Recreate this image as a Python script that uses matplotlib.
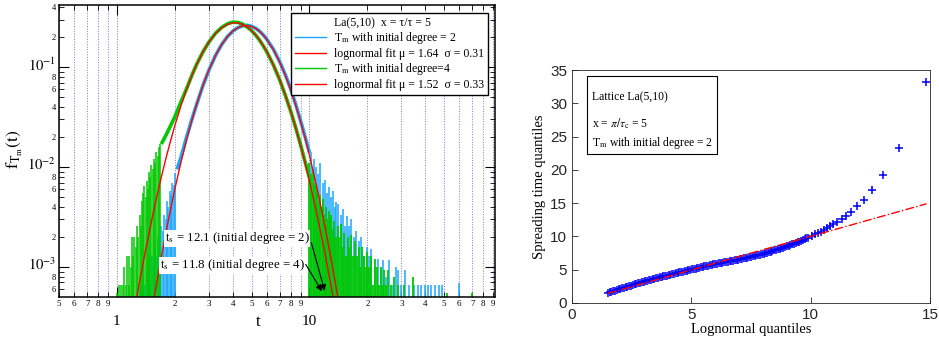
import matplotlib
matplotlib.use("Agg")
import matplotlib.pyplot as plt
from matplotlib.lines import Line2D
from matplotlib.patches import Rectangle
from matplotlib.ticker import FixedLocator, FixedFormatter
from matplotlib.transforms import ScaledTranslation

plt.rcParams['font.family'] = ['Liberation Serif', 'DejaVu Serif']
plt.rcParams['mathtext.fontset'] = 'stix'

BLUE = "#1aa6ff"
GREEN = "#00c800"
RED = "#ff0000"

# === histogram, initial degree 2 (blue) ===
blue_t = [2.05, 2.15, 2.3, 2.45, 2.6, 2.8, 3.0, 3.25, 3.5, 3.75, 4.0, 4.25, 4.5, 4.75,
          5.0, 5.25, 5.5, 5.75, 6.0, 6.5, 7.0, 7.5, 8.0, 8.5, 9.0, 9.5, 10.0]
blue_f = [0.0095, 0.0125, 0.0200, 0.030, 0.043, 0.066, 0.093, 0.131, 0.169, 0.203, 0.230,
          0.249, 0.260, 0.263, 0.257, 0.246, 0.230, 0.211, 0.191, 0.151, 0.114, 0.084,
          0.060, 0.042, 0.029, 0.020, 0.014]
blue_left_t = [1.31, 1.34, 1.37, 1.40, 1.43, 1.46, 1.49, 1.52, 1.55, 1.58, 1.61, 1.64, 1.67,
               1.70, 1.73, 1.76, 1.79, 1.82, 1.85, 1.88, 1.91, 1.94, 1.97, 2.00]
blue_left_f = [0.00066, 0.00066, 0.0010, 0.00066, 0.0010, 0.0013, 0.00066, 0.0013, 0.0010,
               0.0016, 0.0013, 0.0020, 0.0016, 0.0026, 0.0023, 0.0033, 0.0030, 0.0046,
               0.0040, 0.0058, 0.0052, 0.0070, 0.0066, 0.0088]
blue_right_t = [10.2, 10.5, 10.8, 11.1, 11.4, 11.7, 12.0, 12.3, 12.6, 12.9, 13.2, 13.5, 13.8,
                14.1, 14.5, 14.9, 15.3, 15.7, 16.1, 16.5, 17.0, 17.5, 18.0, 18.6, 19.2, 19.8,
                20.4, 21.0, 21.8, 22.6, 23.4, 24.2, 25.0, 26.0, 27.0, 28.0, 29.0, 30.0, 31.5,
                33.0, 35.0, 36.5, 38.0, 40.0, 41.5, 43.0, 45.0, 47.0, 49.0, 60.0]
blue_right_f = [0.0140, 0.0120, 0.0100, 0.0085, 0.0110, 0.0070, 0.0075, 0.0055, 0.0063,
                0.0050, 0.0058, 0.0040, 0.0045, 0.0043, 0.0033, 0.0038, 0.0026, 0.0032,
                0.0026, 0.0030, 0.0020, 0.0023, 0.0018, 0.0020, 0.0013, 0.0016, 0.0013,
                0.0015, 0.0010, 0.0012, 0.00093, 0.00117, 0.0008, 0.00117, 0.00066, 0.0010,
                0.00093, 0.00066, 0.00093, 0.00066, 0.00066, 0.00066, 0.00066, 0.00066,
                0.00066, 0.00066, 0.00066, 0.00066, 0.00066, 0.00069]

# === histogram, initial degree 4 (green) ===
green_t = [1.70, 1.80, 1.90, 2.0, 2.15, 2.3, 2.45, 2.6, 2.8, 3.0, 3.25, 3.5, 3.75, 4.0,
           4.25, 4.5, 4.75, 5.0, 5.25, 5.5, 5.75, 6.0, 6.5, 7.0, 7.5, 8.0, 8.5, 9.0, 9.5, 10.0]
green_f = [0.017, 0.021, 0.026, 0.032, 0.045, 0.061, 0.083, 0.108, 0.143, 0.178,
           0.219, 0.250, 0.272, 0.283, 0.281, 0.270, 0.253, 0.233, 0.210, 0.187, 0.164,
           0.143, 0.105, 0.075, 0.052, 0.036, 0.0245, 0.0166, 0.0112, 0.0078]
green_left_t = [1.00, 1.02, 1.05, 1.07, 1.09, 1.11, 1.13, 1.15, 1.16, 1.18, 1.20, 1.21, 1.23,
                1.25, 1.27, 1.29, 1.31, 1.33, 1.35, 1.37, 1.39, 1.41, 1.43, 1.45, 1.47, 1.49,
                1.51, 1.53, 1.55, 1.57, 1.60, 1.63, 1.66, 1.68]
green_left_f = [0.00055, 0.00066, 0.00066, 0.00066, 0.0010, 0.00066, 0.0013, 0.00066, 0.0013,
                0.0010, 0.0020, 0.0013, 0.0020, 0.0016, 0.0026, 0.0020, 0.0033, 0.0026,
                0.0046, 0.0055, 0.0064, 0.0050, 0.0072, 0.0060, 0.0090, 0.0080, 0.0105,
                0.0095, 0.0120, 0.0110, 0.0140, 0.0130, 0.0160, 0.0170]
green_right_t = [10.0, 10.2, 10.4, 10.6, 10.8, 11.0, 11.2, 11.4, 11.6, 11.8, 12.0, 12.2, 12.4,
                 12.6, 12.8, 13.0, 13.2, 13.4, 13.7, 14.0, 14.3, 14.6, 14.9, 15.2, 15.5, 15.8,
                 16.1, 16.4, 16.8, 17.2, 17.6, 18.0, 18.4, 18.8, 19.2, 19.6, 20.0, 20.5, 21.0,
                 21.5, 22.0, 22.5, 23.0, 23.5, 24.0, 24.5, 25.0, 25.5, 26.5, 27.5, 29.0, 31.0,
                 34.5, 52.0, 70.0]
green_right_f = [0.0110, 0.0085, 0.0095, 0.0070, 0.0066, 0.0060, 0.0046, 0.0053, 0.0040,
                 0.0048, 0.0033, 0.0040, 0.0030, 0.0036, 0.0026, 0.0033, 0.0024, 0.0029,
                 0.0020, 0.0026, 0.0020, 0.0027, 0.0016, 0.0022, 0.0013, 0.0020, 0.0016,
                 0.0021, 0.0013, 0.0018, 0.0013, 0.0016, 0.0010, 0.0016, 0.0013, 0.0010,
                 0.0014, 0.0010, 0.0013, 0.00066, 0.0012, 0.0010, 0.00066, 0.0010, 0.00066,
                 0.00093, 0.00066, 0.00093, 0.00066, 0.0008, 0.00066, 0.00066, 0.0008,
                 0.00055, 0.00055]

# === lognormal fits ===
mu_fit = [1.64, 1.52]
sigma_fit = [0.31, 0.33]
fit1_t = [1.55, 1.62, 1.7, 1.85, 2.0, 2.15, 2.3, 2.45, 2.6, 2.8, 3.0, 3.25, 3.5, 3.75, 4.0,
          4.25, 4.5, 4.75, 5.0, 5.25, 5.5, 5.75, 6.0, 6.5, 7.0, 7.5, 8.0, 8.5, 9.0, 9.5,
          10, 11, 12, 13, 14]
fit1_f = [4.53e-4, 7.45e-4, 1.252e-3, 2.946e-3, 6.07e-3, 0.0112, 0.01889, 0.0295, 0.04324,
          0.0661, 0.09335, 0.1309, 0.1686, 0.2027, 0.2302, 0.2494, 0.2598, 0.2617, 0.2561,
          0.2447, 0.2290, 0.2104, 0.1903, 0.1497, 0.1130, 0.0826, 0.05891, 0.0412, 0.02843,
          0.01939, 0.01312, 5.89e-3, 2.615e-3, 1.155e-3, 5.10e-4]
fit2_t = [1.25, 1.32, 1.4, 1.55, 1.7, 1.8, 1.9, 2.0, 2.15, 2.3, 2.45, 2.6, 2.8, 3.0, 3.25,
          3.5, 3.75, 4.0, 4.25, 4.5, 4.75, 5.0, 5.25, 5.5, 5.75, 6.0, 6.5, 7.0, 7.5, 8.0,
          8.5, 9.0, 9.5, 10, 11, 12, 13, 13.5]
fit2_f = [4.27e-4, 7.66e-4, 1.39e-3, 3.62e-3, 7.94e-3, 0.01242, 0.0184, 0.02618, 0.0412,
          0.06018, 0.0826, 0.1076, 0.1431, 0.1783, 0.2179, 0.2489, 0.2692, 0.2784, 0.2776,
          0.2683, 0.2528, 0.2331, 0.2109, 0.1879, 0.1652, 0.1435, 0.1054, 0.07509, 0.05236,
          0.03592, 0.02433, 0.01636, 0.01092, 7.26e-3, 3.19e-3, 1.402e-3, 6.18e-4, 4.12e-4]

# spreading time thresholds
ts_values = [12.1, 11.8]
ts_degree = [2, 4]

# === QQ plot (initial degree 2) ===
qq_x = [1.5, 1.575, 1.65, 1.725, 1.8, 1.875, 1.95, 2.025, 2.1, 2.175, 2.25, 2.325, 2.4,
        2.475, 2.55, 2.625, 2.7, 2.775, 2.85, 2.925, 3.0, 3.075, 3.15, 3.225, 3.3, 3.375,
        3.45, 3.525, 3.6, 3.675, 3.75, 3.825, 3.9, 3.975, 4.05, 4.125, 4.2, 4.275, 4.35,
        4.425, 4.5, 4.575, 4.65, 4.725, 4.8, 4.875, 4.95, 5.025, 5.1, 5.175, 5.25, 5.325,
        5.4, 5.475, 5.55, 5.625, 5.7, 5.775, 5.85, 5.925, 6.0, 6.075, 6.15, 6.225, 6.3,
        6.375, 6.45, 6.525, 6.6, 6.675, 6.75, 6.825, 6.9, 6.975, 7.05, 7.125, 7.2, 7.275,
        7.35, 7.425, 7.5, 7.575, 7.65, 7.725, 7.8, 7.875, 7.95, 8.025, 8.1, 8.175, 8.25,
        8.325, 8.4, 8.475, 8.55, 8.625, 8.7, 8.775, 8.85, 8.925, 9.0, 9.075, 9.15, 9.225,
        9.3, 9.375, 9.45, 9.525, 9.6, 9.675, 9.75, 9.825, 9.9,
        10.05, 10.18, 10.3, 10.42, 10.55, 10.68, 10.82, 10.95, 11.1, 11.3, 11.48,
        11.7, 11.93, 12.24, 12.56, 13.04, 13.7, 14.82]
qq_y = [1.50, 1.59, 1.68, 1.765, 1.85, 1.94, 2.03, 2.115, 2.20, 2.285, 2.37, 2.455, 2.54,
        2.62, 2.70, 2.78, 2.86, 2.935, 3.01, 3.09, 3.17, 3.245, 3.32, 3.395, 3.47, 3.545,
        3.62, 3.695, 3.77, 3.845, 3.92, 3.99, 4.06, 4.13, 4.20, 4.27, 4.34, 4.405, 4.47,
        4.535, 4.60, 4.665, 4.73, 4.795, 4.86, 4.92, 4.98, 5.045, 5.11, 5.17, 5.23, 5.295,
        5.36, 5.425, 5.49, 5.55, 5.61, 5.67, 5.73, 5.79, 5.85, 5.90, 5.95, 6.00, 6.05,
        6.10, 6.15, 6.20, 6.25, 6.305, 6.36, 6.415, 6.47, 6.53, 6.59, 6.65, 6.71, 6.77,
        6.83, 6.89, 6.95, 7.015, 7.08, 7.145, 7.21, 7.28, 7.35, 7.425, 7.50, 7.575, 7.65,
        7.73, 7.81, 7.895, 7.98, 8.065, 8.15, 8.24, 8.33, 8.425, 8.52, 8.62, 8.72, 8.82,
        8.92, 9.02, 9.12, 9.23, 9.34, 9.46, 9.58, 9.70, 9.82,
        10.1, 10.3, 10.5, 10.7, 10.95, 11.2, 11.5, 11.8, 12.1, 12.6, 13.1,
        13.6, 14.5, 15.5, 17.0, 19.2, 23.3, 33.2]
ref_x = [1.5, 14.85]
ref_y = [1.45, 14.9]

fig = plt.figure(figsize=(9.39, 3.46), dpi=100)

# ---------------- left panel ----------------
ax = fig.add_axes([59/939, 49/346, 436/939, 292/346])
ax.set_xscale('log')
ax.set_yscale('log')
ax.set_xlim(0.5, 92)
ax.set_ylim(5e-4, 0.42)
y0 = ax.get_ylim()[0]

ax.vlines(blue_left_t, y0, blue_left_f, color=BLUE, lw=1.1)
ax.vlines(blue_right_t, y0, blue_right_f, color=BLUE, lw=1.1)
ax.plot(blue_t, blue_f, color=BLUE, lw=2.6, solid_capstyle='butt')
ax.vlines(green_left_t, y0, green_left_f, color=GREEN, lw=1.1)
ax.vlines(green_right_t, y0, green_right_f, color=GREEN, lw=1.3)
ax.plot(green_t, green_f, color=GREEN, lw=2.6, solid_capstyle='butt')
ax.plot(fit1_t, fit1_f, color=RED, lw=1.0)
ax.plot(fit2_t, fit2_f, color=RED, lw=1.0)

# ticks
xmaj = [1, 10]
xmin = [0.5, 0.6, 0.7, 0.8, 0.9, 2, 3, 4, 5, 6, 7, 8, 9, 20, 30, 40, 50, 60, 70, 80, 90]
ax.xaxis.set_major_locator(FixedLocator(xmaj))
ax.xaxis.set_major_formatter(FixedFormatter(['1', '10']))
ax.xaxis.set_minor_locator(FixedLocator(xmin))
ax.xaxis.set_minor_formatter(FixedFormatter([str(v)[0] if v >= 1 else str(v)[2] for v in xmin]))

ymaj = [1e-3, 1e-2, 1e-1]
ymin = [6e-4, 7e-4, 8e-4, 9e-4, 2e-3, 3e-3, 4e-3, 5e-3, 6e-3, 7e-3, 8e-3, 9e-3,
        2e-2, 3e-2, 4e-2, 5e-2, 6e-2, 7e-2, 8e-2, 9e-2, 0.2, 0.3, 0.4]
ymin_lab = ['6', '', '8', '', '2', '', '4', '', '6', '', '8', '',
            '2', '', '4', '', '6', '', '8', '', '2', '', '4']
ax.yaxis.set_major_locator(FixedLocator(ymaj))
ax.yaxis.set_major_formatter(FixedFormatter([r'$10^{-3}$', r'$10^{-2}$', r'$10^{-1}$']))
ax.yaxis.set_minor_locator(FixedLocator(ymin))
ax.yaxis.set_minor_formatter(FixedFormatter(ymin_lab))

ax.tick_params(which='both', direction='in', top=True, right=True, color='k')
ax.tick_params(axis='x', which='major', length=7, labelsize=11, pad=13)
ax.tick_params(axis='x', which='minor', length=3.5, labelsize=6.5, pad=2)
ax.tick_params(axis='y', which='major', length=7, labelsize=10.5, pad=2)
ax.tick_params(axis='y', which='minor', length=3.5, labelsize=6, pad=2)
for s in ax.spines.values():
    s.set_linewidth(1.1)
# lift the decade labels a little so they clear the "8" below them
for lab in ax.yaxis.get_majorticklabels():
    lab.set_transform(lab.get_transform() + ScaledTranslation(0, 2.5/72, fig.dpi_scale_trans))

ax.grid(True, which='both', axis='x', color='#7777ee', ls=':', lw=0.7)
ax.set_axisbelow(True)

ax.set_xlabel('t', fontsize=12)
ax.xaxis.set_label_coords(0.456, -0.058)
ax.set_ylabel(r'$\mathrm{f}_{\mathrm{T_m}}\mathrm{(t)}$', fontsize=12.5)
ax.yaxis.set_label_coords(-0.078, 0.505)

# annotations
ax.text(1.77, 1.94e-3, r't$_{\rm s}$ = %.1f (initial degree = %d)' % (ts_values[0], ts_degree[0]),
        fontsize=9.3, ha='left', va='center', zorder=5,
        bbox=dict(fc='white', ec='none', pad=0.5))
ax.text(1.67, 1.04e-3, r't$_{\rm s}$ = %.1f (initial degree = %d)' % (ts_values[1], ts_degree[1]),
        fontsize=9.3, ha='left', va='center', zorder=5,
        bbox=dict(fc='white', ec='none', pad=0.5))
ax.annotate('', xy=(ts_values[0], 5.4e-4), xytext=(10.15, 1.85e-3), zorder=6,
            arrowprops=dict(arrowstyle='-|>', color='k', lw=0.8, mutation_scale=9))
ax.annotate('', xy=(ts_values[1], 5.4e-4), xytext=(9.4, 1.12e-3), zorder=6,
            arrowprops=dict(arrowstyle='-|>', color='k', lw=0.8, mutation_scale=9))

handles = [
    Line2D([], [], color='none'),
    Line2D([], [], color=BLUE, lw=1.0),
    Line2D([], [], color=RED, lw=1.0),
    Line2D([], [], color=GREEN, lw=1.0),
    Line2D([], [], color=RED, lw=1.0),
]
labels = [
    u'La(5,10)  x = \u03c4/\u03c4 = 5',
    r'T$_{\rm m}$ with initial degree = 2',
    u'lognormal fit \u03bc = %.2f  \u03c3 = %.2f' % (mu_fit[0], sigma_fit[0]),
    r'T$_{\rm m}$ with initial degree=4',
    u'lognormal fit \u03bc = %.2f  \u03c3 = %.2f' % (mu_fit[1], sigma_fit[1]),
]
leg = ax.legend(handles, labels, loc='upper right', bbox_to_anchor=(0.984, 0.973),
                borderaxespad=0, fancybox=False, edgecolor='k', framealpha=1,
                fontsize=8.5, handlelength=2.6, handletextpad=0.7, labelspacing=0.12,
                borderpad=0.35)
leg.get_frame().set_linewidth(1.0)
leg.set_zorder(10)

# ---------------- right panel ----------------
ax2 = fig.add_axes([572/939, 43/346, 358/939, 233/346])
ax2.plot(qq_x, qq_y, '+', color='#0000ff', ms=5.5, mew=1.1)
ax2.plot(ref_x, ref_y, '-.', color=RED, lw=1.0)
ax2.set_xlim(0, 15)
ax2.set_ylim(0, 35)
ax2.set_xticks([0, 5, 10, 15])
ax2.set_yticks([0, 5, 10, 15, 20, 25, 30, 35])
ax2.tick_params(direction='in', length=4, labelsize=11, colors='#262626', width=0.6)
for lab in ax2.get_xticklabels() + ax2.get_yticklabels():
    lab.set_family('Liberation Sans')
for s in ax2.spines.values():
    s.set_linewidth(0.6)
    s.set_color('#262626')
ax2.set_xlabel('Lognormal quantiles', fontsize=10.5, labelpad=1)
ax2.set_ylabel('Spreading time quantiles', fontsize=10.5, labelpad=3)

ax2.add_patch(Rectangle((0.042, 0.639), 0.363, 0.335, transform=ax2.transAxes,
                        fc='white', ec='k', lw=0.8, zorder=5))
ax2.text(0.056, 0.884, 'Lattice La(5,10)', transform=ax2.transAxes, fontsize=8.4,
         va='center', ha='left', zorder=6)
ax2.text(0.056, 0.768, r'x = $\pi/\tau_{\rm c}$ = 5', transform=ax2.transAxes, fontsize=8.4,
         va='center', ha='left', zorder=6)
ax2.text(0.056, 0.687, r'T$_{\rm m}$ with initial degree = 2', transform=ax2.transAxes,
         fontsize=8.4, va='center', ha='left', zorder=6)

fig.savefig('out.png', dpi=100, facecolor='white')
